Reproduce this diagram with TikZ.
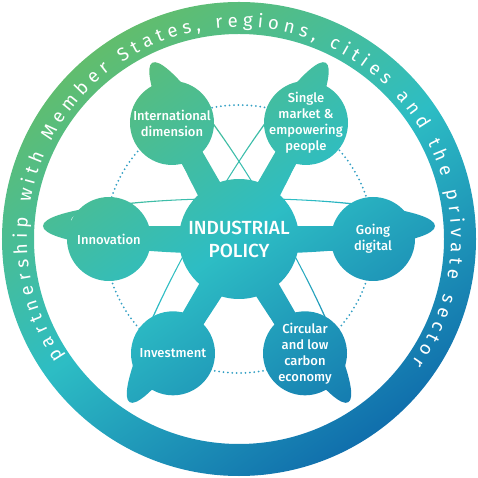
\documentclass[tikz,border=0pt]{standalone}
\usepackage{fontspec}
\setmainfont{Fira Sans}
\IfFontExistsTF{Fira Sans Medium}{\newfontfamily\medfont{Fira Sans Medium}}{\newfontfamily\medfont{Fira Sans}}
\usetikzlibrary{calc,decorations.text}
\pgfdeclarelayer{bg}
\pgfsetlayers{bg,main}

\definecolor{ecgreen}{RGB}{98,189,108}
\definecolor{ecteal}{RGB}{45,189,196}
\definecolor{ecblue}{RGB}{16,110,172}
\definecolor{ecdots}{RGB}{52,160,196}

\tikzset{
  topic/.style={circle,minimum size=84pt,inner sep=0pt,align=center,text=white,font=\medfont\fontsize{13}{16}\selectfont},
  hubnode/.style={circle,minimum size=120pt,inner sep=0pt,align=center,text=white,font=\medfont\fontsize{19}{23}\selectfont},
  ecshade/.style={top color=ecgreen,bottom color=ecblue,middle color=ecteal,shading angle=35},
  dotring/.style={draw=ecdots,line width=2pt,line cap=round,dash pattern=on 0pt off 4.4pt},
}
\newcommand\ecfill{\shade[ecshade] (-239,-239) rectangle (239,239);}
\newcommand\ringfont{\fontsize{18.5}{18.5}\selectfont}

\begin{document}
\begin{tikzpicture}[x=1pt,y=1pt]
    \useasboundingbox (-239,-239) rectangle (239,239);

    % the policy and its six topics
    \node[hubnode] (hub) at (0,0) {INDUSTRIAL\\POLICY};
    \node[topic] (intl) at (120:134) {International\\dimension};
    \node[topic] (single) at (60:134) {Single\\market \&\\empowering\\people};
    \node[topic] (innov) at (180:130) {Innovation};
    \node[topic] (digital) at (0:134) {Going\\digital};
    \node[topic] (invest) at (240:132) {Investment};
    \node[topic] (circ) at (300:132) {Circular\\and low\\carbon\\economy};

    \begin{pgfonlayer}{bg}
        % outer band
        \begin{scope}[even odd rule]
            \clip (0,0) circle[radius=237] (0,0) circle[radius=205];
            \ecfill
        \end{scope}

        \draw[dotring] (hub.center) circle[radius=134];

        % orbits
        \foreach \a in {0,60,-60} {
            \begin{scope}[even odd rule,rotate=\a]
                \clip (0,13) ellipse[x radius=196,y radius=28] (0,19) ellipse[x radius=168,y radius=21];
                \shade[ecshade,rotate=-\a] (-239,-239) rectangle (239,239);
            \end{scope}
        }

        % spokes
        \foreach \n in {intl,single,innov,digital,invest,circ} {
            \begin{scope}
                \clip ($(hub.center)!12pt!90:(\n.center)$) -- ($(\n.center)!12pt!-90:(hub.center)$)
                    -- ($(\n.center)!12pt!90:(hub.center)$) -- ($(hub.center)!12pt!-90:(\n.center)$) -- cycle;
                \ecfill
            \end{scope}
        }

        % bubbles
        \foreach \n/\r in {hub/60,intl/42,single/42,innov/42,digital/42,invest/42,circ/42} {
            \begin{scope}
                \clip (\n.center) circle[radius=\r];
                \ecfill
            \end{scope}
        }
    \end{pgfonlayer}

    \path[decorate,decoration={text along path,text align=fit to path,text color=white,
        text={|\ringfont|partnership with Member States, regions, cities and the private sector}}]
        (214:212) arc[start angle=214,end angle=-35.5,radius=212];

\end{tikzpicture}
\end{document}
